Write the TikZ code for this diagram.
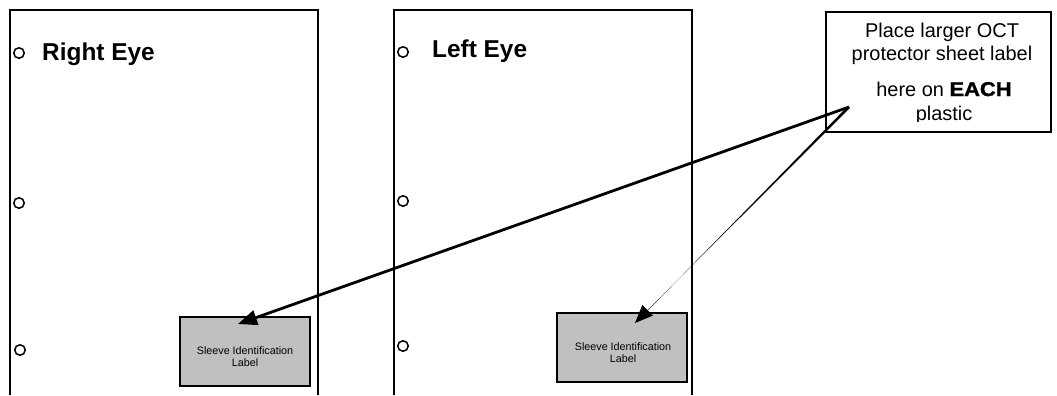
\documentclass[tikz,border=0pt]{standalone}
\usepackage{fontspec}
\setmainfont{Liberation Sans}
\newfontfamily\blackfont[FakeStretch=1.1,FakeBold=1.5]{Liberation Sans}
\usetikzlibrary{arrows.meta,calc}
\definecolor{sleevegray}{HTML}{C0C0C0}
\begin{document}
\begin{tikzpicture}[x=1bp,y=-1bp,
  sheet/.style={line width=2bp},
  hole/.style={circle,draw,line width=1.5bp,minimum size=10.5bp,inner sep=0pt},
  title/.style={font=\fontsize{24.5}{28}\selectfont\bfseries,inner sep=0pt,anchor=base west},
  sleeve/.style={draw,fill=sleevegray,line width=2bp,minimum width=130bp,minimum height=69bp,inner sep=0pt},
  small/.style={font=\fontsize{10.8}{12}\selectfont,align=center,inner sep=0pt},
  bigline/.style={font=\fontsize{20}{24}\selectfont,inner sep=0pt,anchor=base},
  conn/.style={line width=2.8bp,-{Triangle[length=19bp,width=15bp]}}
]
\useasboundingbox (0,0) rectangle (1057,395);
% sheets
\draw[sheet] (10,395) -- (10,10) -- (318,10) -- (318,395);
\draw[sheet] (394,395) -- (394,10) -- (692,10) -- (692,395);
% holes
\node[hole] (h11) at (19,53) {};
\node[hole] (h12) at (19,203) {};
\node[hole] (h13) at (20,350) {};
\node[hole] (h21) at (403,52) {};
\node[hole] (h22) at (403,201) {};
\node[hole] (h23) at (403,346) {};
% titles
\node[title] (re) at (42,60) {Right Eye};
\node[title] (le) at (432,57) {Left Eye};
% sleeve labels
\node[sleeve] (s1) at (245,351.5) {};
\node[small] (s1t) at (245,357) {Sleeve Identification\\Label};
\node[sleeve] (s2) at (622,347.5) {};
\node[small] (s2t) at (623,353) {Sleeve Identification\\Label};
% big box
\node[draw,line width=2bp,minimum width=225bp,minimum height=120bp,inner sep=0pt] (big) at (938.5,72) {};
\node[bigline] (b1) at (942,37) {Place larger OCT};
\node[bigline] (b2) at (942,60) {protector sheet label};
\node[bigline] (b3) at (944,96) {here on {\blackfont\bfseries EACH}};
\begin{scope}
\clip (826,12) rectangle (1051,121.5);
\node[bigline] (b4) at (944,120) {plastic};
\end{scope}
% connectors
\coordinate (v) at (849,107);
\coordinate (t1) at (238,324);
\coordinate (t2) at (635,323);
\draw[conn] (v) -- (t1);
\coordinate (b) at ($(t2)!18bp!(v)$);
\fill (v) -- ($(v)!1.4bp!90:(t2)$) -- ($(b)!0.25bp!-90:(t2)$) -- ($(b)!0.25bp!90:(t2)$) -- ($(v)!1.4bp!-90:(t2)$) -- cycle;
\fill (t2) -- ($(b)!7.5bp!90:(t2)$) -- ($(b)!7.5bp!-90:(t2)$) -- cycle;
\end{tikzpicture}
\end{document}
